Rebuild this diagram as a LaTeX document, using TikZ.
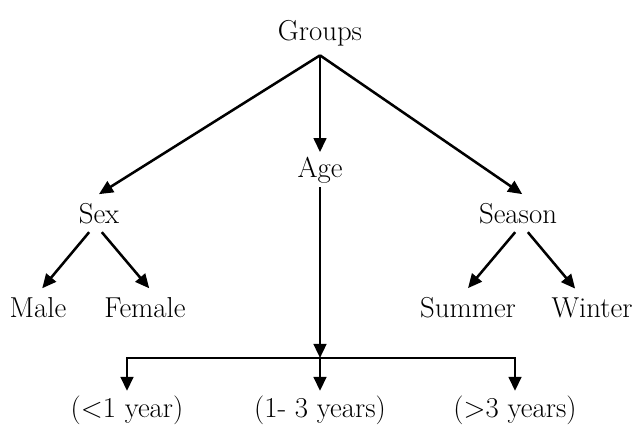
\documentclass[tikz,border=0pt]{standalone}
\usetikzlibrary{arrows.meta, positioning}
\begin{document}
\begin{tikzpicture}[x=0.025cm, y=-0.025cm,
  lbl/.style={font=\fontsize{20.5}{24}\selectfont, inner sep=6pt, anchor=base},
  arr/.style={-{Triangle[length=10pt,width=9pt]}, line width=1.8pt}]
  \useasboundingbox (0,0) rectangle (635,426);
  % labels
  \node[lbl] (groups) at (320,41) {Groups};
  \node[lbl] (sex) at (99,223) {Sex};
  \node[lbl, inner ysep=3pt] (age) at (320,177) {Age};
  \node[lbl] (season) at (518,223) {Season};
  \node[lbl] (male) at (38,317) {Male};
  \node[lbl] (female) at (145,317) {Female};
  \node[lbl] (summer) at (468,317) {Summer};
  \node[lbl] (winter) at (592,317) {Winter};
  \node[lbl, inner ysep=3pt] (young) at (127,417) {(\textless1 year)};
  \node[lbl, inner ysep=3pt] (mid) at (320,417) {(1- 3 years)};
  \node[lbl, inner ysep=3pt] (old) at (515,417) {(\textgreater3 years)};
  \coordinate (split) at (320,358);
  % connectors
  \draw[arr] (groups.south) -- (sex.north);
  \draw[arr] (groups.south) -- (age.north);
  \draw[arr] (groups.south) -- ([xshift=3pt]season.north);
  \draw[arr] ([xshift=-7pt]sex.south) -- ([xshift=3pt]male.north);
  \draw[arr] ([xshift=2pt]sex.south) -- ([xshift=3pt]female.north);
  \draw[arr] ([xshift=-2pt]season.south) -- (summer.north);
  \draw[arr] ([xshift=7pt]season.south) -- ([xshift=-12pt]winter.north);
  \draw[arr] (age.south) -- (split);
  \draw[arr] (split) -| (young.north);
  \draw[arr] (split) -- (mid.north);
  \draw[arr] (split) -| (old.north);
\end{tikzpicture}
\end{document}
